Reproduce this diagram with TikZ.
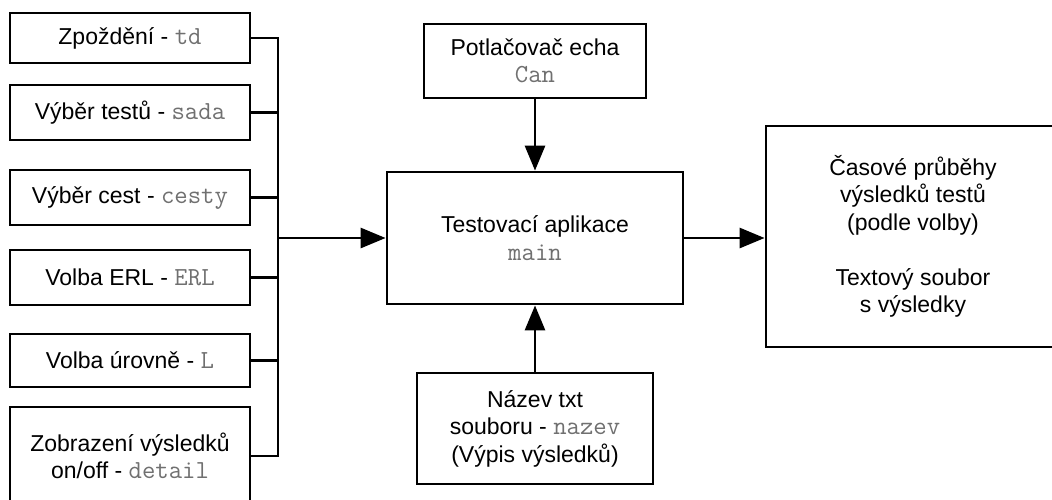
\documentclass[tikz,border=0pt]{standalone}
\usepackage{fontspec}
\setmainfont{Liberation Sans}
\setmonofont{Latin Modern Mono}
\usetikzlibrary{arrows.meta}
\definecolor{codegray}{HTML}{707070}
\newcommand{\kod}[1]{{\ttfamily\fontsize{26}{27.5}\selectfont\color{codegray}#1}}
\tikzset{
  box/.style={draw=black, line width=2.8pt, rectangle, inner sep=0pt, align=center,
              font=\fontsize{23}{27.5}\selectfont, text=black},
  link/.style={line width=2.8pt, draw=black},
  arr/.style={link, -{Triangle[length=25pt,width=20pt]}},
}
\begin{document}
\begin{tikzpicture}[x=1pt, y=-1pt]
  \clip (0,0) rectangle (1052,499);
  \fill[white] (0,0) rectangle (1052,499);

  % input parameters on the left
  \node[box, minimum width=240pt, minimum height=50pt] (b1) at (130,38) {Zpoždění - \kod{td}};
  \node[box, minimum width=240pt, minimum height=55pt] (b2) at (130,112.5) {Výběr testů - \kod{sada}};
  \node[box, minimum width=240pt, minimum height=55pt] (b3) at (130,197.5) {Výběr cest - \kod{cesty}};
  \node[box, minimum width=240pt, minimum height=55pt] (b4) at (130,277.5) {Volba ERL - \kod{ERL}};
  \node[box, minimum width=240pt, minimum height=53pt] (b5) at (130,360.5) {Volba úrovně - \kod{L}};
  \node[box, minimum width=240pt, minimum height=98pt] (b6) at (130,456) {Zobrazení výsledků\\on/off - \kod{detail}};

  % central application and its side inputs
  \node[box, minimum width=296pt, minimum height=132pt] (main) at (535,238) {Testovací aplikace\\\kod{main}};
  \node[box, minimum width=222pt, minimum height=74pt] (echo) at (535,61) {Potlačovač echa\\\kod{Can}};
  \node[box, minimum width=236pt, minimum height=111pt] (file) at (535,428.5) {Název txt\\souboru - \kod{nazev}\\(Výpis výsledků)};

  % outputs
  \node[box, minimum width=294pt, minimum height=221pt] (out) at (913,236.5)
    {Časové průběhy\\výsledků testů\\(podle volby)\\[27.5pt]Textový soubor\\s výsledky};

  % collecting bus
  \coordinate (bus) at (278,238);
  \foreach \b in {b1,b2,b3,b4,b5,b6}
    \draw[link] (\b.east) -- (\b.east -| bus);
  \draw[link, line cap=rect] (b1.east -| bus) -- (b6.east -| bus);

  \draw[arr] (bus) -- (main.west);
  \draw[arr] (echo.south) -- (main.north);
  \draw[arr] (file.north) -- (main.south);
  \draw[arr] (main.east) -- (main.east -| out.west);
\end{tikzpicture}
\end{document}
